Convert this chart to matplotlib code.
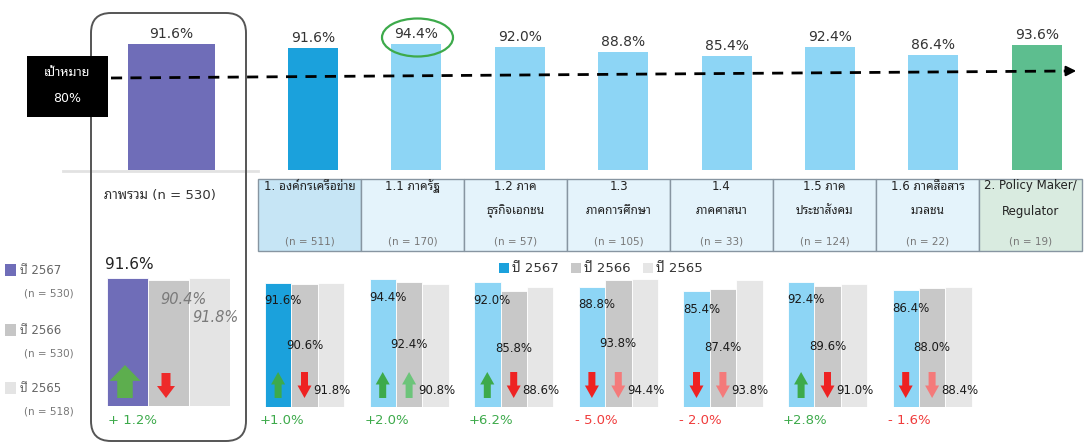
import matplotlib
matplotlib.use('Agg')
import matplotlib.pyplot as plt
from matplotlib import font_manager as fm
from matplotlib.patches import FancyBboxPatch, Rectangle, Ellipse, Polygon
import numpy as np

# ---------------- data ----------------
overall_label = 'ภาพรวม (n = 530)'
overall_2567 = 91.6
overall_hist = [91.6, 90.4, 91.8]   # 2567, 2566, 2565

top_values = [91.6, 94.4, 92.0, 88.8, 85.4, 92.4, 86.4, 93.6]
table_titles = ['1. องค์กรเครือข่าย', '1.1 ภาครัฐ', '1.2 ภาค\nธุรกิจเอกชน', '1.3\nภาคการศึกษา',
                '1.4\nภาคศาสนา', '1.5 ภาค\nประชาสังคม', '1.6 ภาคสื่อสาร\nมวลชน',
                '2. Policy Maker/\nRegulator']
table_n = ['(n = 511)', '(n = 170)', '(n = 57)', '(n = 105)', '(n = 33)',
           '(n = 124)', '(n = 22)', '(n = 19)']

v2567 = [91.6, 94.4, 92.0, 88.8, 85.4, 92.4, 86.4]
v2566 = [90.6, 92.4, 85.8, 93.8, 87.4, 89.6, 88.0]
v2565 = [91.8, 90.8, 88.6, 94.4, 93.8, 91.0, 88.4]

years = ['ปี 2567', 'ปี 2566', 'ปี 2565']
year_n = ['(n = 530)', '(n = 530)', '(n = 518)']
target = 80

# ---------------- fonts ----------------
names = {f.name for f in fm.fontManager.ttflist}
thai = next((n for n in ['Noto Sans Thai Looped', 'Sarabun', 'Noto Sans Thai', 'Niramit',
                         'Anuphan', 'Athiti'] if n in names), 'DejaVu Sans')
FAM = ['DejaVu Sans', thai]
plt.rcParams['font.family'] = FAM

W, H = 1085, 445
fig = plt.figure(figsize=(W / 100, H / 100), dpi=100)
cv = fig.add_axes([0, 0, 1, 1])
cv.set_xlim(0, W)
cv.set_ylim(H, 0)
cv.axis('off')
cv.set_zorder(10)   # annotations layer above the bar axes


def px_axes(x0, y0, x1, y1):
    a = fig.add_axes([x0 / W, 1 - y1 / H, (x1 - x0) / W, (y1 - y0) / H])
    a.axis('off')
    return a


def block_arrow(x, y0, y1, width, color, up=True, z=6):
    # block arrow in canvas pixels, from y0 (top) to y1 (bottom)
    h = y1 - y0
    hw = width / 2
    sw = width * 0.25
    hl = h * 0.48
    if up:
        pts = [(x, y0), (x + hw, y0 + hl), (x + sw, y0 + hl), (x + sw, y1),
               (x - sw, y1), (x - sw, y0 + hl), (x - hw, y0 + hl)]
    else:
        pts = [(x, y1), (x + hw, y1 - hl), (x + sw, y1 - hl), (x + sw, y0),
               (x - sw, y0), (x - sw, y1 - hl), (x - hw, y1 - hl)]
    cv.add_patch(Polygon(pts, closed=True, facecolor=color, edgecolor='none', zorder=z))


# ---------------- overall framed box ----------------
cv.add_patch(FancyBboxPatch((91, 13), 155, 428, boxstyle='round,pad=0,rounding_size=20',
                            facecolor='none', edgecolor='#555555', linewidth=1.4, zorder=3))
cv.plot([63, 258], [171, 171], color='#E2E2E2', lw=2, zorder=1)

# ---------------- top overall bar ----------------
BASE_TOP = 170
ppp_o = 126 / 91.6
ax_o = px_axes(128, 12, 215, BASE_TOP)
ax_o.set_xlim(-0.5, 0.5)
ax_o.set_ylim(0, (BASE_TOP - 12) / ppp_o)
ax_o.bar([0], [overall_2567], width=1.0, color='#6F6DB8')
ax_o.annotate(f'{overall_2567:.1f}%', (0, overall_2567), xytext=(0, 3),
              textcoords='offset pixels', ha='center', va='bottom', fontsize=10, color='#333333')

# ---------------- top group bars ----------------
step = 103.4
c0 = 313
ax_t = px_axes(262, 12, 1083, BASE_TOP)
ppp_t = 1.333
ax_t.set_xlim((262 - c0) / step, (1083 - c0) / step)
ax_t.set_ylim(0, (BASE_TOP - 12) / ppp_t)
top_colors = ['#1BA1DC'] + ['#8DD5F5'] * 6 + ['#5DBE8F']
xt = np.arange(len(top_values))
ax_t.bar(xt, top_values, width=50 / step, color=top_colors)
for x, v in zip(xt, top_values):
    ax_t.annotate(f'{v:.1f}%', (x, v), xytext=(0, 3), textcoords='offset pixels',
                  ha='center', va='bottom', fontsize=10, color='#333333')

# highlight ellipse on the best sector
cv.add_patch(Ellipse((417.5, 37.5), 71, 38, facecolor='none', edgecolor='#3DAA4B', lw=1.6, zorder=5))

# target line
cv.plot([111, 1068], [78, 71], color='black', lw=2, ls=(0, (4, 3)), zorder=8)
cv.annotate('', xy=(1079, 70.9), xytext=(1066, 71.0),
            arrowprops=dict(arrowstyle='-|>,head_length=0.6,head_width=0.3', color='black', lw=1.5),
            zorder=8)
cv.add_patch(Rectangle((27, 56), 81, 61, facecolor='black', edgecolor='none', zorder=9))
cv.text(67, 73, 'เป้าหมาย', ha='center', va='center', color='white', fontsize=9, zorder=10)
cv.text(67, 98, f'{target}%', ha='center', va='center', color='white', fontsize=9, zorder=10)

cv.text(160, 195, overall_label, ha='center', va='center', fontsize=9.5, color='#333333')

# ---------------- table ----------------
edges = [258, 361, 464, 567, 670, 773, 876, 979, 1082]
fills = ['#C6E5F5'] + ['#E4F3FB'] * 6 + ['#D9EBE0']
for i in range(len(table_titles)):
    x0, x1 = edges[i], edges[i + 1]
    cv.add_patch(Rectangle((x0, 179), x1 - x0, 72, facecolor=fills[i], edgecolor='#8795A1',
                           lw=1.0, zorder=2))
    xc = (x0 + x1) / 2
    lines = table_titles[i].split('\n')
    for j, ln in enumerate(lines):
        cv.text(xc, 186 + j * 25, ln, ha='center', va='center', fontsize=8.5,
                color='#222222', zorder=3)
    cv.text(xc, 241, table_n[i], ha='center', va='center', fontsize=7.5, color='#777777', zorder=3)

# ---------------- left legend ----------------
leg_cols_o = ['#6F6DB8', '#C6C6C6', '#E4E4E4']
leg_y = [270, 330, 388]
for c, y, t, n in zip(leg_cols_o, leg_y, years, year_n):
    cv.add_patch(Rectangle((5, y - 6), 11, 12, facecolor=c, edgecolor='none'))
    cv.text(20, y, t, ha='left', va='center', fontsize=8.5, color='#666666')
    cv.text(24, y + 24, n, ha='left', va='center', fontsize=7.5, color='#777777')

# ---------------- overall trend bars ----------------
BASE_B = 406
ppp_b = 128 / 91.6
ax_b = px_axes(107, 250, 230, BASE_B)
ax_b.set_xlim(-0.5, 2.5)
ax_b.set_ylim(0, (BASE_B - 250) / ppp_b)
ax_b.bar(np.arange(3), overall_hist, width=1.0, color=leg_cols_o, edgecolor='white', lw=0.6)
ax_b.annotate(f'{overall_hist[0]:.1f}%', (0, overall_hist[0]), xytext=(2, 6),
              textcoords='offset pixels', ha='center', va='bottom', fontsize=11, color='#222222')
ax_b.annotate(f'{overall_hist[1]:.1f}%', (1, overall_hist[1]), xytext=(15, -20),
              textcoords='offset pixels', ha='center', va='center', fontsize=10.5,
              color='#7A7A7A', style='italic')
ax_b.annotate(f'{overall_hist[2]:.1f}%', (2, overall_hist[2]), xytext=(6, -40),
              textcoords='offset pixels', ha='center', va='center', fontsize=10.5,
              color='#7A7A7A', style='italic')
d0 = overall_hist[0] - overall_hist[1]
d1 = overall_hist[1] - overall_hist[2]
block_arrow(125, 365, 398, 31, '#5DAE4E' if d0 >= 0 else '#EE2A2A', up=d0 >= 0)
block_arrow(166, 373, 398, 18, '#5DAE4E' if d1 >= 0 else '#EE2A2A', up=d1 >= 0)
cv.text(132, 421, f'+ {d0:.1f}%' if d0 >= 0 else f'- {abs(d0):.1f}%', ha='center', va='center',
        fontsize=9.5, color='#3DAA4B' if d0 >= 0 else '#F03C3C')

# ---------------- sector trend bars ----------------
g_step = 104.6
g_c0 = 304.5
bwp = 26.4
ax_g = px_axes(258, 255, 990, BASE_B + 1)
ppp_g = 1.354
ax_g.set_xlim((258 - g_c0) / g_step, (990 - g_c0) / g_step)
ax_g.set_ylim(0, (BASE_B + 1 - 255) / ppp_g)
gx = np.arange(len(v2567))
off = bwp / g_step
c2567 = ['#1BA1DC'] + ['#8DD5F5'] * 6
ax_g.bar(gx - off, v2567, width=off, color=c2567, edgecolor='white', lw=0.6)
ax_g.bar(gx, v2566, width=off, color='#C8C8C8', edgecolor='white', lw=0.6)
ax_g.bar(gx + off, v2565, width=off, color='#E6E6E6', edgecolor='white', lw=0.6)
for i in gx:
    ax_g.annotate(f'{v2567[i]:.1f}%', (i - off, v2567[i]), xytext=(5, -18),
                  textcoords='offset pixels', ha='center', va='center', fontsize=8.5, color='#1A1A1A')
    ax_g.annotate(f'{v2566[i]:.1f}%', (i, v2566[i] / 2), ha='center', va='center',
                  fontsize=8.5, color='#1A1A1A')
    ax_g.annotate(f'{v2565[i]:.1f}%', (i + off, 12.5), xytext=(1, 0), textcoords='offset pixels',
                  ha='center', va='center', fontsize=8.5, color='#1A1A1A')

# arrows + change labels
pale2 = [False, True, False, True, True, False, True]
for i in gx:
    cx = g_c0 + i * g_step
    d_a = v2567[i] - v2566[i]
    d_b = v2566[i] - v2565[i]
    col_a = '#3DAA4B' if d_a >= 0 else '#EE2222'
    if d_b >= 0:
        col_b = '#6CC47A' if pale2[i] else '#3DAA4B'
    else:
        col_b = '#F47A7A' if pale2[i] else '#EE2222'
    block_arrow(cx - bwp, 372, 398, 14, col_a, up=d_a >= 0)
    block_arrow(cx, 372, 398, 14, col_b, up=d_b >= 0)
    txt = f'+{d_a:.1f}%' if d_a >= 0 else f'- {abs(d_a):.1f}%'
    cv.text(cx - bwp + 4, 420, txt, ha='center', va='center', fontsize=9.5,
            color='#3DAA4B' if d_a >= 0 else '#F03C3C')

# middle legend
for xs, c, t in zip([499, 571, 643], ['#1BA1DC', '#C8C8C8', '#E6E6E6'], years):
    cv.add_patch(Rectangle((xs, 263), 10, 10, facecolor=c, edgecolor='none'))
    cv.text(xs + 13, 268, t, ha='left', va='center', fontsize=9.5, color='#333333')

fig.savefig('out.png', dpi=100, facecolor='white')
